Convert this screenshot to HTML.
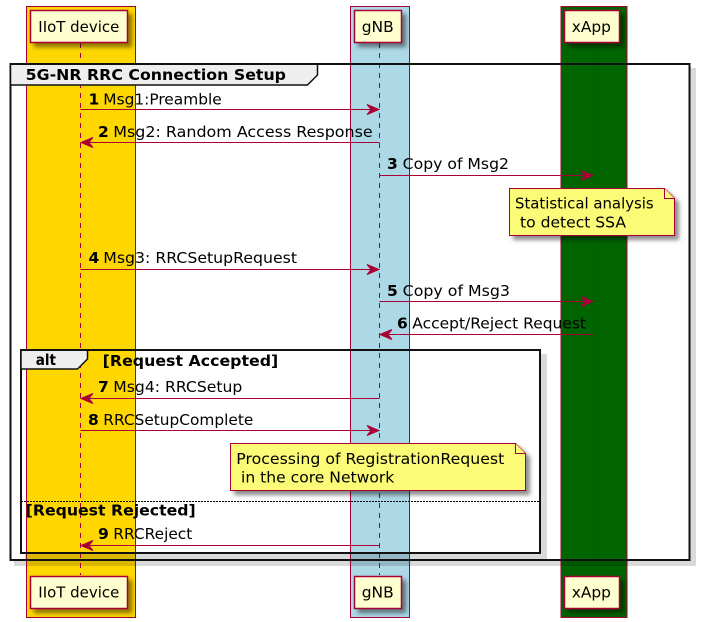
<!DOCTYPE html>
<html><head><meta charset="utf-8">
<style>
html,body{margin:0;padding:0;background:#fff}
svg{display:block}
text{font-family:"DejaVu Sans",sans-serif;font-size:15.5px;fill:#000;white-space:pre}
.b{font-weight:bold;font-size:15.5px}
.p{fill:#FEFECE;stroke:#A80036;stroke-width:1.5;filter:url(#s)}
.n{fill:#FBFB77;stroke:#A80036;stroke-width:1;filter:url(#s)}
.l{stroke:#A80036;stroke-width:1;stroke-dasharray:5 5;fill:none}
.m{stroke:#A80036;stroke-width:1;fill:none}
.h{fill:#A80036;stroke:#A80036;stroke-width:1}
.f{fill:none;stroke:#111;stroke-width:2}
.sh{fill:none;stroke:#000;stroke-opacity:.15;stroke-width:6}
</style></head><body>
<svg width="701" height="622" viewBox="0 0 701 622" xmlns="http://www.w3.org/2000/svg">
<defs><filter id="s" x="-20%" y="-30%" width="140%" height="170%"><feDropShadow dx="4" dy="4" stdDeviation="2" flood-color="#000" flood-opacity=".45"/></filter></defs>
<rect x="26.5" y="6.5" width="109" height="611" fill="#FFD700" stroke="#A80036"/>
<rect x="350.5" y="6.5" width="59" height="611" fill="#ADD8E6" stroke="#A80036"/>
<rect x="561" y="6.5" width="66" height="611" fill="#006400" stroke="#A80036"/>

<path class="sh" d="M693 68V563H14"/>
<path class="sh" d="M544 354V556H25"/>

<path class="l" d="M80.5 43V575M379.5 43V575M593.5 43V575"/>

<rect class="p" x="30.5" y="10.5" width="97" height="32"/>
<rect class="p" x="354.5" y="10.5" width="47" height="32"/>
<rect class="p" x="564.5" y="10.5" width="55" height="32"/>
<text x="38.300" y="32" textLength="81" lengthAdjust="spacingAndGlyphs">IIoT device</text>
<text x="361.700" y="32" textLength="32" lengthAdjust="spacingAndGlyphs">gNB</text>
<text x="571.700" y="32" textLength="39.300" lengthAdjust="spacingAndGlyphs">xApp</text>
<rect class="p" x="30.5" y="576.5" width="97" height="32"/>
<rect class="p" x="354.5" y="576.5" width="47" height="32"/>
<rect class="p" x="564.5" y="576.5" width="55" height="32"/>
<text x="38.300" y="597.500" textLength="81" lengthAdjust="spacingAndGlyphs">IIoT device</text>
<text x="361.700" y="597.500" textLength="32" lengthAdjust="spacingAndGlyphs">gNB</text>
<text x="571.700" y="597.500" textLength="39.300" lengthAdjust="spacingAndGlyphs">xApp</text>

<rect class="f" x="10.5" y="64" width="679" height="496"/>
<path d="M10.5 64H317.500V75L307.500 85H10.5Z" fill="#EEE" stroke="#111" stroke-width="1.5"/>
<path d="M10.5 64H317.500" stroke="#111" stroke-width="2"/>
<text class="b" x="25.700" y="80" textLength="260.300" lengthAdjust="spacingAndGlyphs">5G-NR RRC Connection Setup</text>

<path class="m" d="M80.5 109.500H379M379.500 142.500H81M379.500 175.500H593M80.5 269.500H379M379.500 301.500H593M593.500 334.500H380M379.500 398.500H81M80.5 430.500H379M379.500 545.500H81"/>
<path class="h" d="M367 104.500L379 109.500L367 114.500L371 109.500Z"/>
<path class="h" d="M93 137.500L81 142.500L93 147.500L89 142.500Z"/>
<path class="h" d="M581 170.500L593 175.500L581 180.500L585 175.500Z"/>
<path class="h" d="M367 264.500L379 269.500L367 274.500L371 269.500Z"/>
<path class="h" d="M581 296.500L593 301.500L581 306.500L585 301.500Z"/>
<path class="h" d="M392 329.500L380 334.500L392 339.500L388 334.500Z"/>
<path class="h" d="M93 393.500L81 398.500L93 403.500L89 398.500Z"/>
<path class="h" d="M367 425.500L379 430.500L367 435.500L371 430.500Z"/>
<path class="h" d="M93 540.500L81 545.500L93 550.500L89 545.500Z"/>

<text class="b" x="88.500" y="104.500">1</text><text x="103.300" y="104.500" textLength="118.400" lengthAdjust="spacingAndGlyphs">Msg1:Preamble</text>
<text class="b" x="98" y="137">2</text><text x="113.300" y="137" textLength="259.400" lengthAdjust="spacingAndGlyphs">Msg2: Random Access Response</text>
<text class="b" x="387" y="169">3</text><text x="402.700" y="169" textLength="106.300" lengthAdjust="spacingAndGlyphs">Copy of Msg2</text>
<text class="b" x="88.500" y="263">4</text><text x="103.300" y="263" textLength="193.700" lengthAdjust="spacingAndGlyphs">Msg3: RRCSetupRequest</text>
<text class="b" x="387" y="296">5</text><text x="402.700" y="296" textLength="107.300" lengthAdjust="spacingAndGlyphs">Copy of Msg3</text>
<text class="b" x="397" y="328.300">6</text><text x="412.300" y="328.300" textLength="173.700" lengthAdjust="spacingAndGlyphs">Accept/Reject Request</text>
<text class="b" x="98" y="392">7</text><text x="113.300" y="392" textLength="129" lengthAdjust="spacingAndGlyphs">Msg4: RRCSetup</text>
<text class="b" x="88" y="425">8</text><text x="103.300" y="425" textLength="150" lengthAdjust="spacingAndGlyphs">RRCSetupComplete</text>
<text class="b" x="98" y="539">9</text><text x="113.300" y="539" textLength="79" lengthAdjust="spacingAndGlyphs">RRCReject</text>

<path class="n" d="M509.500 188.500H664.500L674.500 198.500V235.500H509.500Z"/>
<path d="M664.500 188.500V198.500H674.500" fill="#FBFB77" stroke="#A80036"/>
<text x="515" y="208.300" textLength="138.700" lengthAdjust="spacingAndGlyphs">Statistical analysis</text>
<text x="520" y="227.300" textLength="106" lengthAdjust="spacingAndGlyphs">to detect SSA</text>

<rect class="f" x="21" y="350" width="519" height="203"/>
<path d="M21 350H87.500V359L77.500 369H21Z" fill="#EEE" stroke="#111" stroke-width="1.5"/>
<path d="M21 350H87.500" stroke="#111" stroke-width="2"/>
<text class="b" x="35.700" y="365" textLength="20.300" lengthAdjust="spacingAndGlyphs">alt</text>
<text class="b" x="102.700" y="366" textLength="175.600" lengthAdjust="spacingAndGlyphs">[Request Accepted]</text>

<path class="n" d="M230.500 443.500H515.500L525.500 453.500V490.500H230.500Z"/>
<path d="M515.500 443.500V453.500H525.500" fill="#FBFB77" stroke="#A80036"/>
<text x="236.300" y="464" textLength="268" lengthAdjust="spacingAndGlyphs">Processing of RegistrationRequest</text>
<text x="241" y="482.700" textLength="153.300" lengthAdjust="spacingAndGlyphs">in the core Network</text>

<path d="M21 501.500H540" stroke="#000" stroke-width="1" stroke-dasharray="2 1"/>
<text class="b" x="25.700" y="515.700" textLength="170" lengthAdjust="spacingAndGlyphs">[Request Rejected]</text>
</svg>
</body></html>
